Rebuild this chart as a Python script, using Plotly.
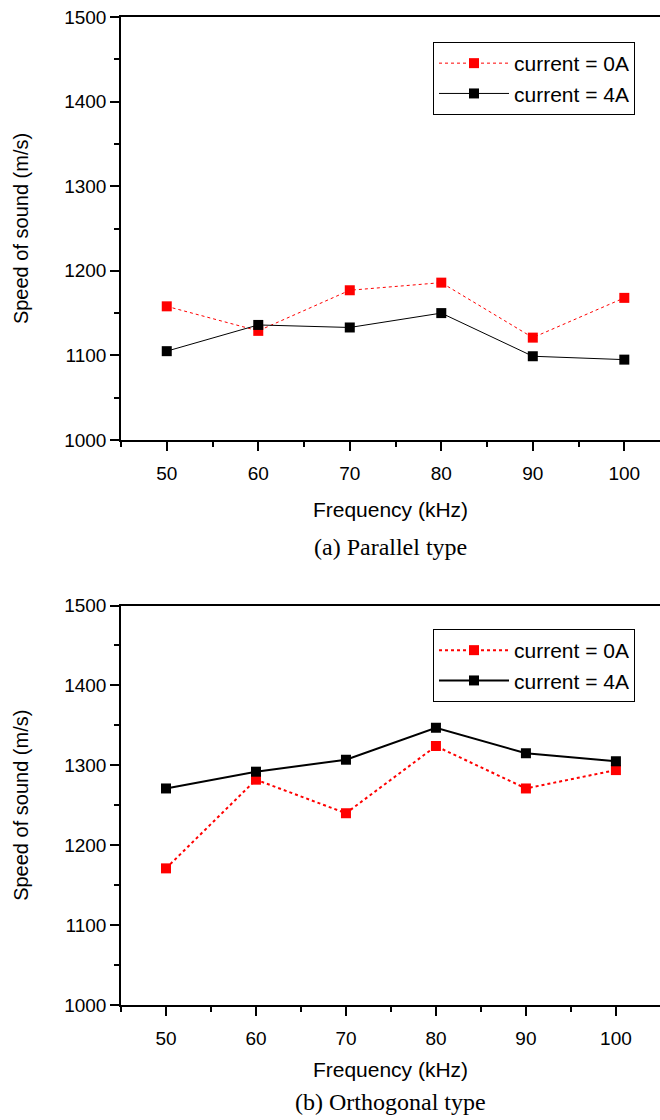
import plotly.graph_objects as go

freq = [50, 60, 70, 80, 90, 100]
par_0A = [1158, 1129, 1177, 1186, 1121, 1168]
par_4A = [1105, 1136, 1133, 1150, 1099, 1095]
orth_0A = [1171, 1282, 1240, 1324, 1271, 1294]
orth_4A = [1271, 1292, 1307, 1347, 1315, 1305]
x_ticks = [50, 60, 70, 80, 90, 100]
y_ticks = [1000, 1100, 1200, 1300, 1400, 1500]

W, H = 660, 1120
FONT = "Liberation Sans, Arial, sans-serif"
SERIF = "Liberation Serif, Times New Roman, serif"

fig = go.Figure()
fig.add_trace(go.Scatter(x=freq, y=par_0A, mode="lines+markers", name="current = 0A",
                         line=dict(color="red", width=1, dash="dot"),
                         marker=dict(symbol="square", size=10, color="red"),
                         xaxis="x", yaxis="y", legend="legend"))
fig.add_trace(go.Scatter(x=freq, y=par_4A, mode="lines+markers", name="current = 4A",
                         line=dict(color="black", width=1),
                         marker=dict(symbol="square", size=10, color="black"),
                         xaxis="x", yaxis="y", legend="legend"))
fig.add_trace(go.Scatter(x=freq, y=orth_0A, mode="lines+markers", name="current = 0A",
                         line=dict(color="red", width=2, dash="dot"),
                         marker=dict(symbol="square", size=10, color="red"),
                         xaxis="x2", yaxis="y2", legend="legend2"))
fig.add_trace(go.Scatter(x=freq, y=orth_4A, mode="lines+markers", name="current = 4A",
                         line=dict(color="black", width=2),
                         marker=dict(symbol="square", size=10, color="black"),
                         xaxis="x2", yaxis="y2", legend="legend2"))

xl, xr = 121 / W, 1.0
top_dom = [1 - 440 / H, 1 - 17 / H]
bot_dom = [1 - 1005 / H, 1 - 605.5 / H]

def xax(rng, anchor, standoff):
    return dict(domain=[xl, xr], range=rng, anchor=anchor, tickvals=x_ticks,
                ticks="outside", ticklen=9, tickwidth=1.5, tickcolor="black",
                minor=dict(dtick=5, tick0=45, ticks="outside", ticklen=5, tickwidth=1.5, tickcolor="black"),
                showline=True, linecolor="black", linewidth=1.5, mirror=True,
                showgrid=False, zeroline=False, automargin=False, ticklabelstandoff=6,
                tickfont=dict(family=FONT, size=19, color="black"),
                title=dict(text="Frequency (kHz)", font=dict(family=FONT, size=21, color="black"),
                           standoff=standoff))

def yax(dom, anchor):
    return dict(domain=dom, range=[1000, 1500], anchor=anchor, tickvals=y_ticks,
                ticks="outside", ticklen=9, tickwidth=1.5, tickcolor="black",
                minor=dict(dtick=50, tick0=1000, ticks="outside", ticklen=5, tickwidth=1.5, tickcolor="black"),
                showline=True, linecolor="black", linewidth=1.5,
                showgrid=False, zeroline=False, automargin=False,
                tickfont=dict(family=FONT, size=19, color="black"),
                title=dict(text="Speed of sound (m/s)", font=dict(family=FONT, size=20, color="black"),
                           standoff=30))

legend_style = dict(xanchor="left", yanchor="top", bordercolor="black", borderwidth=1,
                    bgcolor="white", font=dict(family=FONT, size=21, color="black"),
                    tracegroupgap=0, itemwidth=70)

fig.update_layout(
    template="none",
    width=W, height=H, margin=dict(l=0, r=0, t=0, b=0, autoexpand=False),
    plot_bgcolor="white", paper_bgcolor="white",
    xaxis=xax([45, 103.9], "y", 20), yaxis=yax(top_dom, "x"),
    xaxis2=xax([45, 104.9], "y2", 15), yaxis2=yax(bot_dom, "x2"),
    legend=dict(x=433 / W, y=1 - 42 / H, **legend_style),
    legend2=dict(x=433 / W, y=1 - 629 / H, **legend_style),
    showlegend=True,
    annotations=[
        dict(text="(a) Parallel type", x=390 / W, y=1 - 547 / H, xref="paper", yref="paper",
             xanchor="center", yanchor="middle",
             showarrow=False, font=dict(family=SERIF, size=24, color="black")),
        dict(text="(b) Orthogonal type", x=390 / W, y=1 - 1102 / H, xref="paper", yref="paper",
             xanchor="center", yanchor="middle",
             showarrow=False, font=dict(family=SERIF, size=24, color="black")),
    ],
)

fig.write_html("out.html")
